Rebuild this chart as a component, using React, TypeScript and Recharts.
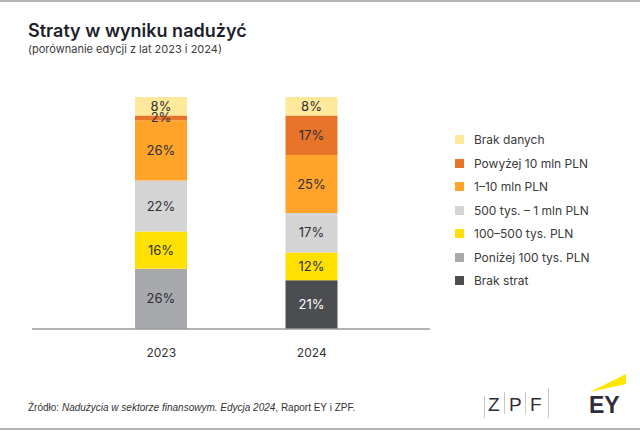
import React from "react";
import { BarChart, Bar, XAxis, YAxis, LabelList } from "recharts";

const years = ["2023", "2024"];

// series, bottom of the stack first
const brakStrat = [0, 21];
const ponizej100 = [26, 0];
const od100do500 = [16, 12];
const od500do1m = [22, 17];
const od1do10m = [26, 25];
const powyzej10m = [2, 17];
const brakDanych = [8, 8];

const SERIES = [
  { key: "brakStrat", name: "Brak strat", color: "#4b4d50", text: "#ffffff", values: brakStrat },
  { key: "ponizej100", name: "Poniżej 100 tys. PLN", color: "#a7a9ac", text: "#2e2e38", values: ponizej100 },
  { key: "od100do500", name: "100–500 tys. PLN", color: "#ffe000", text: "#2e2e38", values: od100do500 },
  { key: "od500do1m", name: "500 tys. – 1 mln PLN", color: "#d4d4d4", text: "#2e2e38", values: od500do1m },
  { key: "od1do10m", name: "1–10 mln PLN", color: "#ffa32b", text: "#2e2e38", values: od1do10m },
  { key: "powyzej10m", name: "Powyżej 10 mln PLN", color: "#e8742a", text: "#2e2e38", values: powyzej10m },
  { key: "brakDanych", name: "Brak danych", color: "#fee99a", text: "#2e2e38", values: brakDanych },
];

const data = years.map((year, i) => {
  const row: Record<string, string | number> = { year };
  SERIES.forEach((s) => (row[s.key] = s.values[i]));
  return row;
});

const FONT = "Inter, 'Noto Sans', sans-serif";

export default function App() {
  return (
    <div
      style={{
        position: "absolute",
        left: 0,
        top: 0,
        width: 640,
        height: 432,
        background: "#fff",
        overflow: "hidden",
        fontFamily: FONT,
      }}
    >
      <div style={{ position: "absolute", left: 0, top: 0, width: 640, height: 2, background: "#b4b4b4" }} />
      <div style={{ position: "absolute", left: 0, top: 428, width: 640, height: 2, background: "#b4b4b4" }} />

      <div style={{ position: "absolute", left: 28, top: 20, fontSize: 18, fontWeight: 600, color: "#1f1f2b" }}>
        Straty w wyniku nadużyć
      </div>
      <div style={{ position: "absolute", left: 28, top: 42, fontSize: 11, color: "#3c3c3c" }}>
        (porównanie edycji z lat 2023 i 2024)
      </div>

      <div style={{ position: "absolute", left: 0, top: 0 }}>
        <BarChart
          width={640}
          height={432}
          data={data}
          margin={{ top: 97, right: 210, bottom: 73, left: 32 }}
        >
          <XAxis
            dataKey="year"
            axisLine={{ stroke: "#9a9a9a", strokeWidth: 1.5 }}
            tickLine={false}
            tickMargin={13}
            height={30}
            padding={{ left: 54, right: 43 }}
            tick={{ fill: "#333", fontSize: 12, fontFamily: FONT }}
          />
          <YAxis hide domain={[0, 100]} />
          {SERIES.map((s) => (
            <Bar
              key={s.key}
              dataKey={s.key}
              name={s.name}
              stackId="a"
              fill={s.color}
              barSize={52}
              isAnimationActive={false}
            >
              <LabelList
                dataKey={s.key}
                position="center"
                formatter={(v: any) => (v ? `${v}%` : "")}
                fill={s.text}
                fontSize={13}
                fontFamily={FONT}
              />
            </Bar>
          ))}
        </BarChart>
      </div>

      {/* legend, top of the stack first */}
      <div style={{ position: "absolute", left: 455, top: 128, fontSize: 12, color: "#3a3a3a" }}>
        {SERIES.slice()
          .reverse()
          .map((s) => (
            <div key={s.key} style={{ display: "flex", alignItems: "center", height: 23.5 }}>
              <span style={{ width: 9, height: 9, background: s.color, marginRight: 10 }} />
              <span>{s.name}</span>
            </div>
          ))}
      </div>

      <div
        style={{
          position: "absolute",
          left: 28,
          top: 402,
          fontSize: 10,
          color: "#333",
          fontFamily: "'Liberation Sans', Arial, sans-serif",
        }}
      >
        Źródło: <i>Nadużycia w sektorze finansowym. Edycja 2024</i>, Raport EY i ZPF.
      </div>

      <svg width={640} height={432} style={{ position: "absolute", left: 0, top: 0 }}>
        <g stroke="#c8c8c8" strokeWidth={1}>
          <line x1={484.5} y1={396} x2={484.5} y2={418} />
          <line x1={504.5} y1={392} x2={504.5} y2={414} />
          <line x1={525.5} y1={392} x2={525.5} y2={414} />
          <line x1={548.5} y1={388} x2={548.5} y2={418} />
        </g>
        <g fill="#2e2e38" fontFamily="'Liberation Sans', Arial, sans-serif" fontSize={19}>
          <text x={488} y={411}>Z</text>
          <text x={509} y={411}>P</text>
          <text x={530} y={411}>F</text>
        </g>
        <polygon points="590,392 626,374 626,384" fill="#ffe600" />
        <text x={589} y={413} fontFamily="'Liberation Sans', Arial, sans-serif" fontWeight={700} fontSize={23} fill="#2e2e38">
          EY
        </text>
      </svg>
    </div>
  );
}
